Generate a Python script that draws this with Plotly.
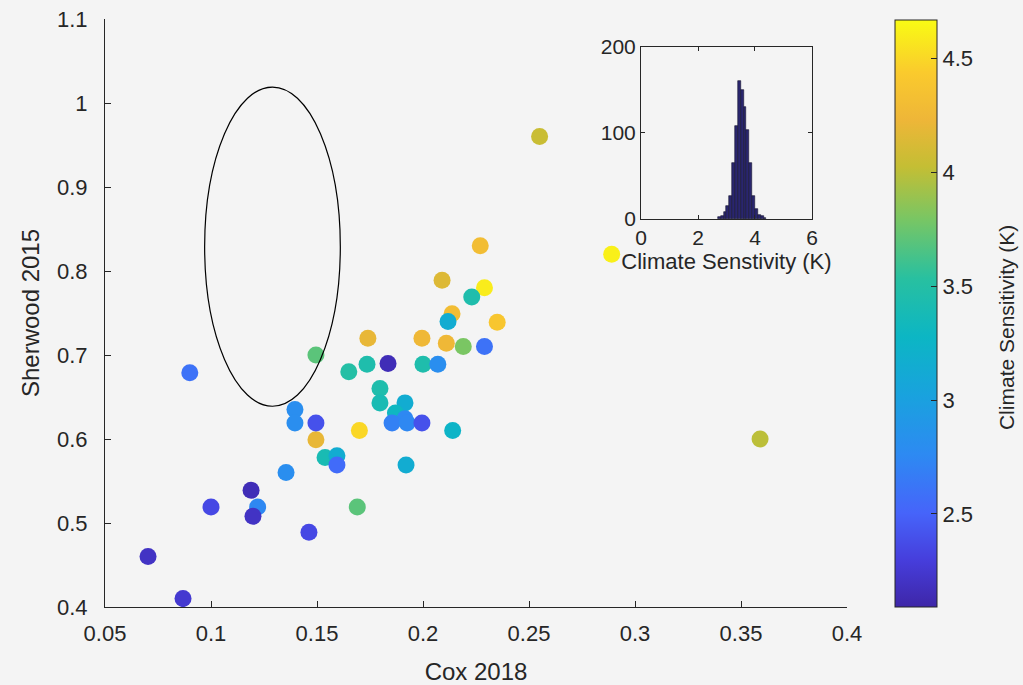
import plotly.graph_objects as go

# ---------------- data ----------------
cox_2018 = [0.255, 0.289, 0.359, 0.227, 0.209, 0.229, 0.223, 0.2137, 0.2118, 0.235,
            0.174, 0.1995, 0.211, 0.219, 0.229, 0.1495, 0.165, 0.1736, 0.1835, 0.200,
            0.207, 0.1797, 0.1797, 0.1915, 0.187, 0.1915, 0.1854, 0.1925, 0.1995, 0.214,
            0.170, 0.192, 0.169, 0.1538, 0.1594, 0.1594, 0.1495, 0.1495, 0.1396, 0.1396,
            0.1354, 0.1189, 0.122, 0.1198, 0.100, 0.1462, 0.0703, 0.0868, 0.090]
sherwood_2015 = [0.96, 0.82, 0.60, 0.83, 0.789, 0.78, 0.769, 0.749, 0.740, 0.739,
                 0.72, 0.72, 0.714, 0.71, 0.71, 0.70, 0.68, 0.689, 0.69, 0.689,
                 0.689, 0.66, 0.643, 0.643, 0.631, 0.624, 0.619, 0.619, 0.619, 0.61,
                 0.61, 0.569, 0.519, 0.578, 0.58, 0.569, 0.599, 0.619, 0.635, 0.619,
                 0.56, 0.539, 0.519, 0.508, 0.519, 0.489, 0.46, 0.41, 0.679]
climate_sensitivity = [4.05, 4.62, 4.0, 4.3, 4.15, 4.6, 3.45, 4.3, 3.15, 4.4,
                       4.2, 4.25, 4.25, 3.8, 2.6, 3.7, 3.5, 3.45, 2.15, 3.45,
                       2.8, 3.45, 3.4, 3.15, 3.3, 2.75, 2.7, 2.75, 2.4, 3.25,
                       4.5, 3.15, 3.7, 3.4, 3.15, 2.55, 4.2, 2.4, 2.8, 2.8,
                       2.8, 2.15, 2.75, 2.2, 2.35, 2.35, 2.2, 2.25, 2.6]

hist_centers = [2.75, 2.85, 2.95, 3.05, 3.15, 3.25, 3.35, 3.45, 3.55, 3.65,
                3.75, 3.85, 3.95, 4.05, 4.15, 4.25, 4.35]
hist_counts = [2, 4, 8, 15, 27, 65, 108, 160, 150, 130, 103, 65, 27, 12, 5, 3, 1]
hist_bin_width = 0.1

# ellipse (constraint region) parameters
ellipse_cx, ellipse_cy = 0.129, 0.829
ellipse_rx, ellipse_ry = 0.032, 0.19

cs_min, cs_max = 2.09, 4.67
cbar_ticks = [2.5, 3, 3.5, 4, 4.5]
x_ticks = [0.05, 0.1, 0.15, 0.2, 0.25, 0.3, 0.35, 0.4]
y_ticks = [0.4, 0.5, 0.6, 0.7, 0.8, 0.9, 1.0, 1.1]
y_tick_text = ["0.4", "0.5", "0.6", "0.7", "0.8", "0.9", "1", "1.1"]

parula = [
    [0.00, "rgb(62,38,168)"],
    [0.08, "rgb(70,62,220)"],
    [0.16, "rgb(70,100,250)"],
    [0.26, "rgb(45,138,242)"],
    [0.36, "rgb(25,162,222)"],
    [0.46, "rgb(12,182,196)"],
    [0.56, "rgb(40,192,160)"],
    [0.66, "rgb(120,198,100)"],
    [0.75, "rgb(196,190,52)"],
    [0.83, "rgb(238,182,56)"],
    [0.91, "rgb(250,202,45)"],
    [1.00, "rgb(249,251,20)"],
]

BG = "#f4f4f4"
AX = "#262626"
FONT = "Liberation Sans, Arial, sans-serif"

fig = go.Figure()

fig.add_trace(go.Scatter(
    x=cox_2018, y=sherwood_2015, mode="markers",
    marker=dict(size=17, color=climate_sensitivity, colorscale=parula,
                cmin=cs_min, cmax=cs_max, line=dict(width=0),
                colorbar=dict(
                    thickness=42, thicknessmode="pixels",
                    len=587, lenmode="pixels",
                    x=1.0647, xanchor="left", y=0.499, yanchor="middle",
                    outlinecolor=AX, outlinewidth=1,
                    tickvals=cbar_ticks, ticks="inside", ticklen=6,
                    tickcolor=AX,
                    tickfont=dict(size=22, color=AX, family=FONT),
                    ypad=0, xpad=0,
                )),
    xaxis="x", yaxis="y", showlegend=False,
))

fig.add_trace(go.Bar(
    x=hist_centers, y=hist_counts, width=hist_bin_width,
    marker=dict(color="rgb(42,38,110)", line=dict(color="rgb(20,18,45)", width=0.6)),
    xaxis="x2", yaxis="y2", showlegend=False,
))

fig.add_shape(type="circle", xref="x", yref="y",
              x0=ellipse_cx - ellipse_rx, x1=ellipse_cx + ellipse_rx,
              y0=ellipse_cy - ellipse_ry, y1=ellipse_cy + ellipse_ry,
              line=dict(color="black", width=1.2))

fig.add_annotation(text="Climate Sensitivity (K)", xref="paper", yref="paper",
                   x=1.2157, xanchor="center", y=0.4745, yanchor="middle",
                   textangle=-90, showarrow=False,
                   font=dict(size=21, color=AX, family=FONT))

fig.update_layout(
    width=1023, height=685,
    margin=dict(l=105, r=176, t=19, b=78, autoexpand=False),
    paper_bgcolor=BG, plot_bgcolor=BG,
    font=dict(family=FONT, color=AX),
    bargap=0,
    xaxis=dict(domain=[0, 1], range=[0.05, 0.4], tickvals=x_ticks, automargin=False,
               ticks="inside", ticklen=6, tickcolor=AX, showline=True,
               linecolor=AX, linewidth=1, showgrid=False, zeroline=False,
               tickfont=dict(size=22, color=AX), ticklabelstandoff=7,
               title=dict(text="Cox 2018", font=dict(size=24, color=AX), standoff=17)),
    yaxis=dict(domain=[0, 1], range=[0.4, 1.1], tickvals=y_ticks, ticktext=y_tick_text,
               automargin=False,
               ticks="inside", ticklen=6, tickcolor=AX, showline=True,
               linecolor=AX, linewidth=1, showgrid=False, zeroline=False,
               tickfont=dict(size=22, color=AX), ticklabelstandoff=12,
               title=dict(text="Sherwood 2015", font=dict(size=24, color=AX), standoff=10)),
    xaxis2=dict(domain=[0.7224, 0.9528], anchor="y2", range=[0, 6], tickvals=[0, 2, 4, 6],
                ticks="inside", ticklen=4, tickcolor=AX, showline=True, mirror="ticks",
                linecolor=AX, linewidth=1, showgrid=False, zeroline=False,
                tickfont=dict(size=21, color=AX), automargin=False,
                title=dict(text="Climate Senstivity (K)", font=dict(size=22, color=AX), standoff=5)),
    yaxis2=dict(domain=[0.6599, 0.9524], anchor="x2", range=[0, 200], tickvals=[0, 100, 200],
                ticks="inside", ticklen=4, tickcolor=AX, showline=True, mirror="ticks",
                linecolor=AX, linewidth=1, showgrid=False, zeroline=False,
                tickfont=dict(size=21, color=AX), automargin=False),
)

fig.write_html("out.html")
